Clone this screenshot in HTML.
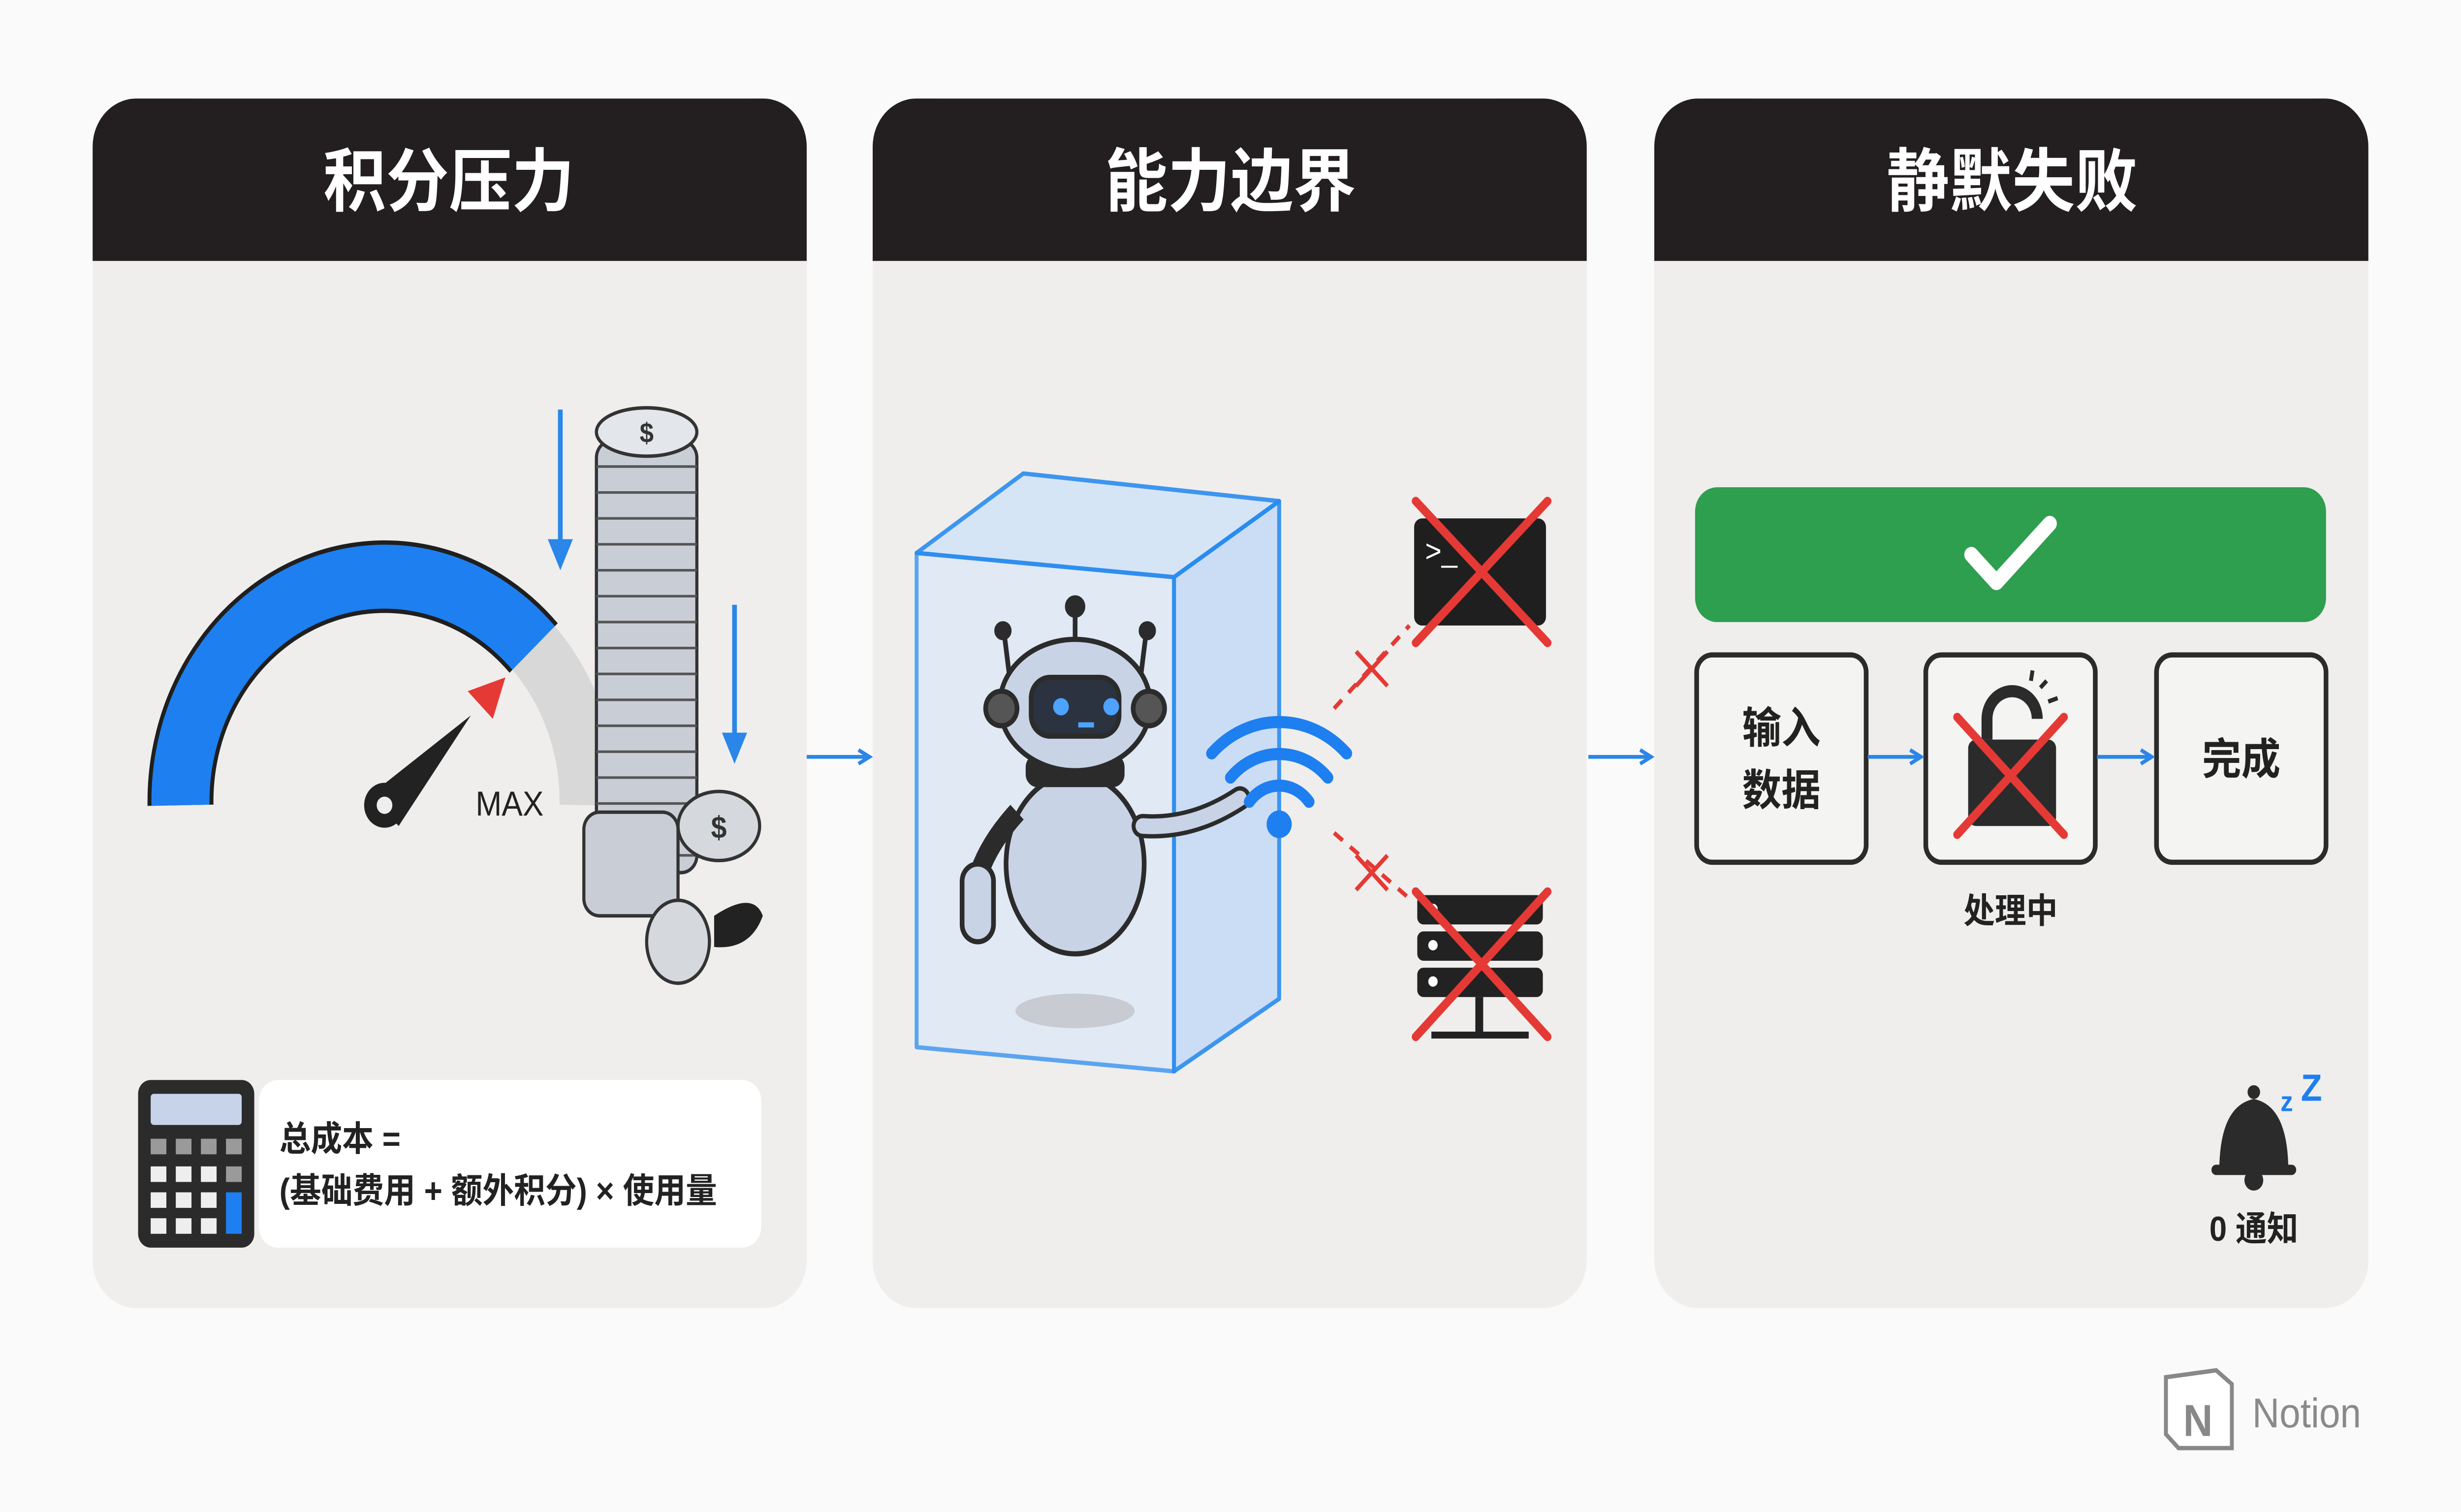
<!DOCTYPE html>
<html><head><meta charset="utf-8"><style>
html,body{margin:0;padding:0;background:#fafafa;overflow:hidden;width:100vw;height:100vh;}
svg{display:block;width:100vw;height:100vh;}
text{font-family:"Liberation Sans","Noto Sans CJK SC",sans-serif;}
</style></head><body>
<svg viewBox="0 0 1568 875" preserveAspectRatio="none" xmlns="http://www.w3.org/2000/svg">
<defs>
<marker id="ah" markerWidth="10" markerHeight="10" refX="8" refY="5" orient="auto" markerUnits="userSpaceOnUse"><path d="M1,1 L8,5 L1,9" fill="none" stroke="#2a86e8" stroke-width="2.2"/></marker>
<marker id="ahb" markerWidth="20" markerHeight="20" refX="10" refY="10" orient="auto" markerUnits="userSpaceOnUse"><path d="M0,2 L18,10 L0,18 Z" fill="#2a86e8"/></marker>
<clipPath id="c1"><rect x="59" y="57" width="455" height="700" rx="28"/></clipPath>
<clipPath id="c2"><rect x="556" y="57" width="455" height="700" rx="28"/></clipPath>
<clipPath id="c3"><rect x="1054" y="57" width="455" height="700" rx="28"/></clipPath>
</defs>
<rect width="1568" height="875" fill="#fafafa"/>
<g clip-path="url(#c1)"><rect x="59" y="57" width="455" height="700" fill="#efeeec"/><rect x="59" y="57" width="455" height="94" fill="#231f20"/></g>
<g clip-path="url(#c2)"><rect x="556" y="57" width="455" height="700" fill="#efeeec"/><rect x="556" y="57" width="455" height="94" fill="#231f20"/></g>
<g clip-path="url(#c3)"><rect x="1054" y="57" width="455" height="700" fill="#efeeec"/><rect x="1054" y="57" width="455" height="94" fill="#231f20"/></g>
<g font-size="40" font-weight="bold" fill="#fff" text-anchor="middle">
<text x="286" y="119">积分压力</text><text x="784" y="119">能力边界</text><text x="1282" y="119">静默失败</text></g>
<line x1="514" y1="438" x2="554" y2="438" stroke="#2a86e8" stroke-width="2.2" marker-end="url(#ah)"/>
<line x1="1012" y1="438" x2="1052" y2="438" stroke="#2a86e8" stroke-width="2.2" marker-end="url(#ah)"/>

<path d="M115,466 A130,130 0 0 1 340,375" fill="none" stroke="#1f1f1f" stroke-width="42"/>
<path d="M115,466 A130,130 0 0 1 340,375" fill="none" stroke="#1e7ff0" stroke-width="37"/>
<path d="M340,375 A130,130 0 0 1 375,466" fill="none" stroke="#d8d8d8" stroke-width="37"/>
<path d="M236,460 L300,414 L254,478 Z" fill="#222"/>
<circle cx="245" cy="466" r="13" fill="#222"/><circle cx="245" cy="466" r="5" fill="#eee"/>
<path d="M298,400 L322,392 L314,416 Z" fill="#e53935"/>
<text x="303" y="472" font-size="20" fill="#222">MAX</text>
<rect x="380" y="255" width="64" height="250" rx="10" stroke="#333" stroke-width="2" fill="#c9ced6"/>
<g stroke="#555" stroke-width="1.5" fill="none">
<path d="M380,270 h64 M380,285 h64 M380,300 h64 M380,315 h64 M380,330 h64 M380,345 h64 M380,360 h64 M380,375 h64 M380,390 h64 M380,405 h64 M380,420 h64 M380,435 h64 M380,450 h64 M380,465 h64 M380,480 h64 M380,495 h64"/>
</g>
<ellipse cx="412" cy="250" rx="32" ry="14" fill="#e3e6ea" stroke="#333" stroke-width="2"/>
<text x="412" y="256" font-size="16" text-anchor="middle" fill="#333" font-weight="bold">$</text>
<rect x="372" y="470" width="60" height="60" rx="10" fill="#c9ced6" stroke="#333" stroke-width="2"/>
<ellipse cx="458" cy="478" rx="26" ry="20" fill="#d5d9de" stroke="#333" stroke-width="2"/>
<text x="458" y="485" font-size="18" text-anchor="middle" fill="#333" font-weight="bold">$</text>
<ellipse cx="432" cy="545" rx="20" ry="24" fill="#d5d9de" stroke="#333" stroke-width="2"/>
<path d="M455,530 Q480,515 486,530 Q478,550 455,548 Z" fill="#222"/>
<line x1="357" y1="237" x2="357" y2="322" stroke="#2a86e8" stroke-width="3" marker-end="url(#ahb)"/>
<line x1="468" y1="350" x2="468" y2="434" stroke="#2a86e8" stroke-width="3" marker-end="url(#ahb)"/>
<rect x="165" y="625" width="320" height="97" rx="12" fill="#fff"/>
<rect x="88" y="625" width="74" height="97" rx="8" fill="#2b2b2b"/>
<rect x="96" y="633" width="58" height="18" rx="2" fill="#c7d3e8"/>
<g fill="#9a9a9a">
<rect x="96" y="659" width="10" height="9"/><rect x="112" y="659" width="10" height="9"/><rect x="128" y="659" width="10" height="9"/><rect x="144" y="659" width="10" height="9"/>
<rect x="96" y="675" width="10" height="9" fill="#eee"/><rect x="112" y="675" width="10" height="9" fill="#eee"/><rect x="128" y="675" width="10" height="9" fill="#eee"/><rect x="144" y="675" width="10" height="9"/>
<rect x="96" y="690" width="10" height="9" fill="#eee"/><rect x="112" y="690" width="10" height="9" fill="#eee"/><rect x="128" y="690" width="10" height="9" fill="#eee"/>
<rect x="96" y="705" width="10" height="9" fill="#eee"/><rect x="112" y="705" width="10" height="9" fill="#eee"/><rect x="128" y="705" width="10" height="9" fill="#eee"/>
<rect x="144" y="690" width="10" height="24" fill="#1e7ff0"/></g>
<text x="178" y="666" font-size="20" font-weight="bold" fill="#222">总成本 =</text>
<text x="178" y="696" font-size="20" font-weight="bold" fill="#222">(基础费用 + 额外积分) × 使用量</text>

<g stroke="#2a8cf0" stroke-width="2.5" stroke-linejoin="round">
<polygon points="584,320 652,274 815,290 748,334" fill="#d4e5f8" opacity="0.9"/>
<polygon points="748,334 815,290 815,578 748,620" fill="#c6dcf5" opacity="0.9"/>
<polygon points="584,320 748,334 748,620 584,606" fill="#dbe8f7" opacity="0.75"/>
</g>
<ellipse cx="685" cy="585" rx="38" ry="10" fill="#c8ccd2"/>
<g stroke="#2b2b2b" stroke-width="3" fill="#c9d3e6">
<line x1="685" y1="355" x2="685" y2="370" fill="none"/><circle cx="685" cy="351" r="5" fill="#2b2b2b"/>
<line x1="640" y1="368" x2="643" y2="390" fill="none"/><circle cx="639" cy="365" r="4" fill="#2b2b2b"/>
<line x1="730" y1="368" x2="727" y2="390" fill="none"/><circle cx="731" cy="365" r="4" fill="#2b2b2b"/>
<ellipse cx="685" cy="500" rx="44" ry="52"/>
<path d="M648,470 Q618,500 620,530" fill="none" stroke-width="12"/>
<rect x="613" y="500" width="20" height="45" rx="10"/>
<path d="M728,478 Q760,480 790,462" fill="none" stroke-width="14" stroke-linecap="round"/>
<path d="M728,478 Q760,480 790,462" fill="none" stroke="#c9d3e6" stroke-width="9" stroke-linecap="round"/>
<rect x="655" y="438" width="60" height="16" rx="6" fill="#2b2b2b"/>
<ellipse cx="685" cy="408" rx="48" ry="38"/>
<circle cx="638" cy="410" r="10" fill="#555"/><circle cx="732" cy="410" r="10" fill="#555"/>
<rect x="657" y="392" width="56" height="34" rx="12" fill="#2b3340"/>
</g>
<circle cx="676" cy="409" r="5" fill="#4da3ff"/><circle cx="708" cy="409" r="5" fill="#4da3ff"/>
<rect x="687" y="418" width="10" height="3" fill="#4da3ff"/>
<g fill="none" stroke="#1e7ff0" stroke-width="7" stroke-linecap="round">
<path d="M772,436 A60,60 0 0 1 858,436"/><path d="M784,450 A42,42 0 0 1 846,450"/><path d="M796,464 A24,24 0 0 1 834,464"/></g>
<circle cx="815" cy="477" r="8" fill="#1e7ff0"/>
<g stroke="#e53935" stroke-width="2.5" fill="none">
<path d="M850,410 L898,362" stroke-dasharray="7,6"/>
<path d="M850,482 L898,520" stroke-dasharray="7,6"/>
<path d="M864,377 l20,20 M884,377 l-20,20"/>
<path d="M864,495 l20,20 M884,495 l-20,20"/>
</g>
<rect x="901" y="300" width="84" height="62" rx="5" fill="#1f1f1f"/>
<text x="908" y="325" font-size="18" fill="#fff" font-family="Liberation Mono">&gt;_</text>
<g fill="#222"><rect x="903" y="518" width="80" height="17" rx="4"/><rect x="903" y="539" width="80" height="17" rx="4"/><rect x="903" y="560" width="80" height="17" rx="4"/><rect x="940" y="577" width="5" height="20"/><rect x="912" y="597" width="62" height="4"/></g>
<g fill="#fff"><circle cx="913" cy="526" r="3"/><circle cx="913" cy="547" r="3"/><circle cx="913" cy="568" r="3"/></g>
<g stroke="#e53935" stroke-width="5" stroke-linecap="round">
<path d="M902,290 L986,372 M986,290 L902,372"/>
<path d="M902,516 L986,600 M986,516 L902,600"/></g>

<rect x="1080" y="282" width="402" height="78" rx="14" fill="#2e9e4f"/>
<path d="M1256,321 L1272,337 L1306,303" fill="none" stroke="#fff" stroke-width="9" stroke-linecap="round" stroke-linejoin="round"/>
<g fill="#f4f4f2" stroke="#2b2b2b" stroke-width="3">
<rect x="1081" y="379" width="108" height="120" rx="10"/>
<rect x="1227" y="379" width="108" height="120" rx="10"/>
<rect x="1374" y="379" width="108" height="120" rx="10"/></g>
<g font-size="25" font-weight="bold" fill="#222" text-anchor="middle">
<text x="1135" y="430">输入</text><text x="1135" y="466">数据</text><text x="1428" y="448">完成</text></g>
<line x1="1190" y1="438" x2="1224" y2="438" stroke="#2a86e8" stroke-width="2.2" marker-end="url(#ah)"/>
<line x1="1336" y1="438" x2="1371" y2="438" stroke="#2a86e8" stroke-width="2.2" marker-end="url(#ah)"/>
<path d="M1266,428 v-12 a16,16 0 0 1 32,0" fill="none" stroke="#2b2b2b" stroke-width="7"/>
<rect x="1254" y="428" width="56" height="50" rx="5" fill="#2b2b2b"/>
<g stroke="#2b2b2b" stroke-width="2.5"><path d="M1300,398 l4,-4 M1305,406 l6,-2 M1294,394 l1,-6"/></g>
<path d="M1247,415 L1315,483 M1315,415 L1247,483" stroke="#e53935" stroke-width="5" stroke-linecap="round"/>
<text x="1281" y="534" font-size="20" font-weight="bold" fill="#222" text-anchor="middle">处理中</text>
<path d="M1414,678 Q1414,640 1436,636 Q1458,640 1458,678 Z" fill="#2b2b2b"/>
<rect x="1409" y="674" width="54" height="6" rx="3" fill="#2b2b2b"/>
<circle cx="1436" cy="683" r="6" fill="#2b2b2b"/><circle cx="1436" cy="632" r="4" fill="#2b2b2b"/>
<text x="1453" y="643" font-size="16" font-weight="bold" fill="#1e7ff0">z</text>
<text x="1466" y="637" font-size="22" font-weight="bold" fill="#1e7ff0">Z</text>
<text x="1436" y="718" font-size="20" font-weight="bold" fill="#222" text-anchor="middle">0 通知</text>

<path d="M1380,797 L1412,793 L1422,801 L1422,838 L1388,838 L1380,830 Z" fill="#fff" stroke="#888" stroke-width="2.5"/>
<text x="1391" y="831" font-size="26" font-weight="bold" fill="#888" font-family="Liberation Serif">N</text>
<text x="1435" y="826" font-size="24" fill="#8a8a8a">Notion</text>
</svg>
</body></html>
